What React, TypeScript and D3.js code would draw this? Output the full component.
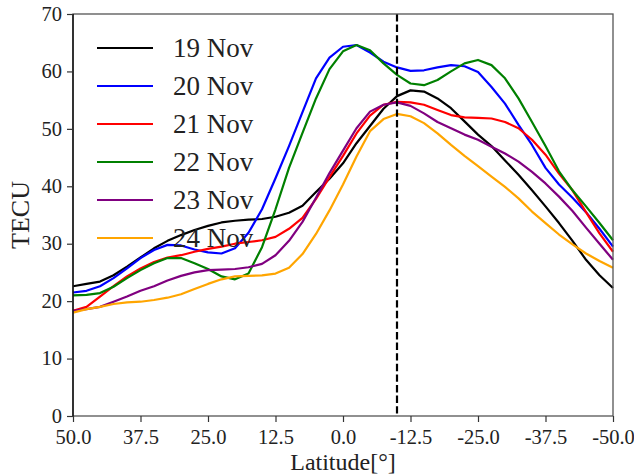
import React, { useEffect, useRef } from 'react';
import * as d3 from 'd3';

// latitude grid, 2.5 deg steps from 50 to -50
const lats = d3.range(0, 41).map(i => 50 - i * 2.5);

const nov19 = [22.6, 23.0, 23.4, 24.5, 26.0, 27.6, 29.2, 30.5, 31.5, 32.4, 33.1, 33.7, 34.0, 34.2, 34.3, 34.7, 35.4, 36.6, 39.0, 41.3, 44.0,
  47.5, 50.5, 53.5, 55.7, 56.7, 56.5, 55.3, 53.6, 51.3, 49.0, 47.0, 44.5, 42.0, 39.3, 36.5, 33.6, 30.5, 27.2, 24.5, 22.3];
const nov20 = [21.5, 21.8, 22.6, 24.0, 25.7, 27.5, 28.9, 29.8, 29.7, 29.0, 28.5, 28.3, 29.2, 31.9, 36.0, 41.4, 47.0, 52.9, 58.8, 62.4, 64.3,
  64.6, 63.3, 61.7, 60.7, 60.1, 60.2, 60.7, 61.1, 60.9, 59.9, 57.3, 54.4, 50.7, 47.2, 43.2, 40.3, 38.0, 35.5, 32.6, 29.5];
const nov21 = [18.3, 19.0, 20.8, 22.6, 24.3, 25.7, 26.8, 27.6, 28.0, 28.6, 29.1, 29.5, 30.0, 30.3, 30.6, 31.2, 32.6, 34.5, 37.8, 41.6, 45.3,
  49.2, 52.3, 54.2, 54.7, 54.6, 54.2, 53.3, 52.4, 52.0, 51.9, 51.8, 51.2, 50.1, 48.1, 45.5, 42.2, 39.3, 35.5, 31.8, 28.6];
const nov22 = [21.0, 21.1, 21.4, 22.5, 24.0, 25.4, 26.6, 27.5, 27.5, 26.6, 25.6, 24.3, 23.8, 24.8, 29.4, 36.0, 43.2, 49.3, 55.3, 60.4, 63.5,
  64.6, 63.7, 61.4, 59.4, 57.9, 57.6, 58.5, 60.0, 61.4, 62.0, 61.1, 58.8, 55.3, 51.2, 47.0, 42.6, 39.3, 36.5, 33.6, 30.6];
const nov23 = [18.3, 18.6, 19.0, 19.9, 20.8, 21.8, 22.6, 23.6, 24.4, 25.0, 25.4, 25.5, 25.6, 25.9, 26.5, 28.0, 30.5, 33.8, 38.0, 42.3, 46.2,
  50.1, 53.0, 54.2, 54.6, 54.0, 52.7, 51.2, 50.1, 49.0, 48.1, 46.9, 45.7, 44.3, 42.5, 40.5, 38.2, 35.7, 32.8, 30.0, 27.2];
const nov24 = [18.0, 18.6, 19.0, 19.5, 19.8, 19.9, 20.2, 20.6, 21.2, 22.1, 23.0, 23.8, 24.3, 24.4, 24.5, 24.8, 25.8, 28.2, 31.7, 35.8, 40.3,
  45.2, 49.6, 51.7, 52.6, 52.2, 51.0, 49.2, 47.2, 45.3, 43.5, 41.7, 39.9, 37.9, 35.6, 33.6, 31.6, 29.9, 28.3, 27.0, 25.8];

const seriesNames = ['19 Nov', '20 Nov', '21 Nov', '22 Nov', '23 Nov', '24 Nov'];
const seriesValues = [nov19, nov20, nov21, nov22, nov23, nov24];
const seriesColors = ['#000000', '#0000ff', '#ff0000', '#008000', '#800080', '#ffa500'];

const xTicks = [50, 37.5, 25, 12.5, 0, -12.5, -25, -37.5, -50];
const yTicks = [0, 10, 20, 30, 40, 50, 60, 70];
const markerLat = -10;

export default function App() {
  const ref = useRef<SVGSVGElement>(null);

  useEffect(() => {
    const W = 634, H = 475;
    const margin = { top: 14, right: 21, bottom: 59, left: 73 };
    const width = W - margin.left - margin.right;
    const height = H - margin.top - margin.bottom;
    const font = '"Liberation Serif", "DejaVu Serif", serif';

    const svg = d3.select(ref.current);
    svg.selectAll('*').remove();
    const g = svg.append('g').attr('transform', `translate(${margin.left},${margin.top})`);

    const x = d3.scaleLinear().domain([50, -50]).range([0, width]);
    const y = d3.scaleLinear().domain([0, 70]).range([height, 0]);

    // curves
    const line = d3.line<number>()
      .x((d, i) => x(lats[i]))
      .y(d => y(d));
    seriesValues.forEach((vals, k) => {
      g.append('path')
        .attr('d', line(vals))
        .attr('fill', 'none')
        .attr('stroke', seriesColors[k])
        .attr('stroke-width', 2.2)
        .attr('stroke-linejoin', 'round');
    });

    // dashed marker
    g.append('line')
      .attr('x1', x(markerLat)).attr('x2', x(markerLat))
      .attr('y1', 0).attr('y2', height)
      .attr('stroke', '#000')
      .attr('stroke-width', 2.2)
      .attr('stroke-dasharray', '7.4,3.2');

    // frame
    g.append('rect')
      .attr('width', width).attr('height', height)
      .attr('fill', 'none').attr('stroke', '#555').attr('stroke-width', 1.3);
    g.append('line').attr('x1', 0).attr('x2', 0).attr('y1', 0).attr('y2', height)
      .attr('stroke', '#000').attr('stroke-width', 1.3);

    // axes
    const xAxis = g.append('g').attr('transform', `translate(0,${height})`)
      .call(d3.axisBottom(x).tickValues(xTicks).tickSize(6).tickFormat(d => d3.format('.1f')(+d).replace('−', '-')));
    const yAxis = g.append('g')
      .call(d3.axisLeft(y).tickValues(yTicks).tickSize(6).tickFormat(d3.format('d')));
    [xAxis, yAxis].forEach(ax => {
      ax.select('.domain').remove();
      ax.selectAll('line').attr('stroke', '#333').attr('stroke-width', 1.2);
      ax.selectAll('text').attr('font-family', font).attr('font-size', 20.5).attr('fill', '#222');
    });
    xAxis.selectAll('text').attr('dy', '0.95em');
    yAxis.selectAll('text').attr('dx', '-0.1em').attr('dy', '0.3em');

    // axis labels
    svg.append('text')
      .attr('x', margin.left + width / 2).attr('y', H - 5)
      .attr('text-anchor', 'middle')
      .attr('font-family', font).attr('font-size', 24).attr('fill', '#222')
      .text('Latitude[°]');
    svg.append('text')
      .attr('transform', `translate(29,${margin.top + height / 2}) rotate(-90)`)
      .attr('text-anchor', 'middle')
      .attr('font-family', font).attr('font-size', 26).attr('fill', '#222')
      .text('TECU');

    // legend, no frame
    const legend = g.append('g').attr('transform', 'translate(24,34)');
    seriesNames.forEach((name, k) => {
      const row = legend.append('g').attr('transform', `translate(0,${k * 38})`);
      row.append('line')
        .attr('x1', 0).attr('x2', 56).attr('y1', 0).attr('y2', 0)
        .attr('stroke', seriesColors[k]).attr('stroke-width', 2.2);
      row.append('text')
        .attr('x', 76).attr('y', 9)
        .attr('font-family', font).attr('font-size', 27).attr('fill', '#222')
        .text(name);
    });
  }, []);

  return (
    <svg ref={ref} width={634} height={475}
      style={{ position: 'absolute', left: 0, top: 0, background: '#fff' }} />
  );
}
